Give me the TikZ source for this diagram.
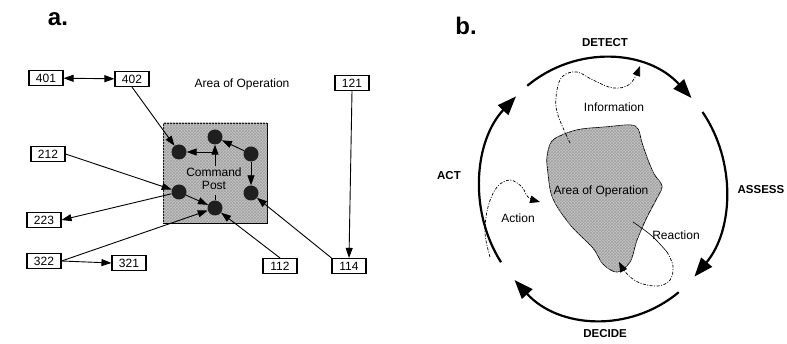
\documentclass[tikz,border=0pt]{standalone}
\usepackage{fontspec}
\setsansfont{Liberation Sans}
\usetikzlibrary{arrows.meta,patterns}
\begin{document}
\begin{tikzpicture}[x=1pt,y=-1pt,
  numbox/.style={draw, line width=1.1pt, fill=white, minimum width=34pt, minimum height=15pt, inner sep=0pt, font=\sffamily\fontsize{12}{12}\selectfont},
  dot/.style={circle, fill=black!88, minimum size=15pt, inner sep=0pt},
  arr/.style={line width=0.9pt, -{Triangle[length=10pt,width=7pt]}},
  darr/.style={line width=0.9pt, {Triangle[length=10pt,width=7pt]}-{Triangle[length=10pt,width=7pt]}},
  lbl/.style={font=\sffamily\fontsize{12}{13}\selectfont},
  panel/.style={font=\sffamily\bfseries\fontsize{24}{24}\selectfont},
  phase/.style={font=\sffamily\bfseries\fontsize{11.5}{12}\selectfont},
  cyc/.style={line width=2.2pt, -{Triangle[length=19pt,width=14pt]}},
  dsh/.style={line width=0.7pt, dash pattern=on 3pt off 1.5pt on 1pt off 1.5pt, -{Triangle[length=10pt,width=7.5pt]}},
  hatch/.style={fill=gray!45, postaction={pattern=crosshatch, pattern color=gray!75}}
]
\useasboundingbox (0,0) rectangle (787,344);

% ---------- panel a ----------
\node[panel] (la) at (58,19) {a.};
\node[numbox] (n401) at (46,78) {401};
\node[numbox] (n402) at (132,79) {402};
\node[lbl] (aoo) at (242,84) {Area of Operation};
\node[numbox] (n121) at (352,83) {121};

\node[draw, line width=0.8pt, hatch, minimum width=104pt, minimum height=100pt, inner sep=0pt] (sq) at (215,173) {};
\node[lbl, align=center] (cp) at (214,179) {Command\\Post};

\node[dot] (d1) at (179,152) {};
\node[dot] (d2) at (215,137) {};
\node[dot] (d3) at (251,154) {};
\node[dot] (d4) at (251,193) {};
\node[dot] (d5) at (215,208) {};
\node[dot] (d6) at (179,192) {};

\coordinate (j1) at (215,166);
\coordinate (j2) at (215,152);
\coordinate (j3) at (215,195);

\node[numbox] (n212) at (48,154) {212};
\node[numbox] (n223) at (44,220) {223};
\node[numbox] (n322) at (44,261) {322};
\node[numbox] (n321) at (129,263) {321};
\node[numbox] (n112) at (280,266) {112};
\node[numbox] (n114) at (349,266) {114};

\draw[darr] (n401) -- (n402);
\draw[arr] (n402.south) -- (d1);
\draw[arr] (n212.east) -- (d6);
\draw[arr] (d6) -- (n223.east);
\draw[arr] (n322.east) -- (d5);
\draw[arr] (n322.east) -- (n321.west);
\draw[arr] (n112.north) -- (d5);
\draw[arr] (n114.north west) -- (d4);
\draw[arr] (n121.south) -- (n114.north);
\draw[arr] (d3) -- (d2);
\draw[arr] (d3) -- (d4);
\draw[arr] (j1) -- (d2);
\draw[arr] (j2) -- (d1);
\draw[arr] (d6) -- (d5);
\draw[line width=0.9pt] (d5) -- (j3);

% ---------- panel b ----------
\node[panel] (lb) at (466,26) {b.};
\coordinate (c) at (603,189);
\draw[cyc] (c) ++(-128:123 and 131) arc[start angle=-128, end angle=-44, x radius=123, y radius=131];
\draw[cyc] (c) ++(-36:123 and 131) arc[start angle=-36, end angle=42, x radius=123, y radius=131];
\draw[cyc] (c) ++(52:123 and 131) arc[start angle=52, end angle=136, x radius=123, y radius=131];
\draw[cyc] (c) ++(-214:123 and 131) arc[start angle=-214, end angle=-135, x radius=123, y radius=131];

\node[phase] (detect) at (605,43) {DETECT};
\node[phase] (assess) at (761,190) {ASSESS};
\node[phase] (decide) at (605,334) {DECIDE};
\node[phase] (act) at (449,176) {ACT};

\draw[line width=0.8pt, hatch] plot[smooth cycle, tension=0.55] coordinates {
  (582,129) (605,127) (630,125) (638,129) (642,143) (648,160) (654,174) (662,186)
  (657,198) (647,217) (637,240) (630,262) (617,272) (603,264) (593,248)
  (573,228) (558,208) (551,193) (548,173) (547,157) (552,141) (567,133)};
\node[lbl] (aob) at (601,191) {Area of Operation};

\draw[dsh] plot[smooth, tension=0.6] coordinates {(570,143) (557,112) (557,90) (563,76) (577,72) (593,80) (613,88) (630,84) (640,66)};
\node[lbl] (info) at (614,107) {Information};

\draw[dsh] plot[smooth, tension=0.6] coordinates {(490,257) (485,233) (488,207) (497,187) (510,180) (522,187) (528,197) (540,202)};
\node[lbl] (action) at (518,218) {Action};

\draw[line width=0.6pt] plot[smooth, tension=0.6] coordinates {(633,222) (652,236) (667,252)};
\draw[dsh] plot[smooth, tension=0.6] coordinates {(667,252) (673,266) (670,280) (658,286) (640,283) (627,274) (619,262)};
\node[lbl] (react) at (676,235) {Reaction};
\end{tikzpicture}
\end{document}
